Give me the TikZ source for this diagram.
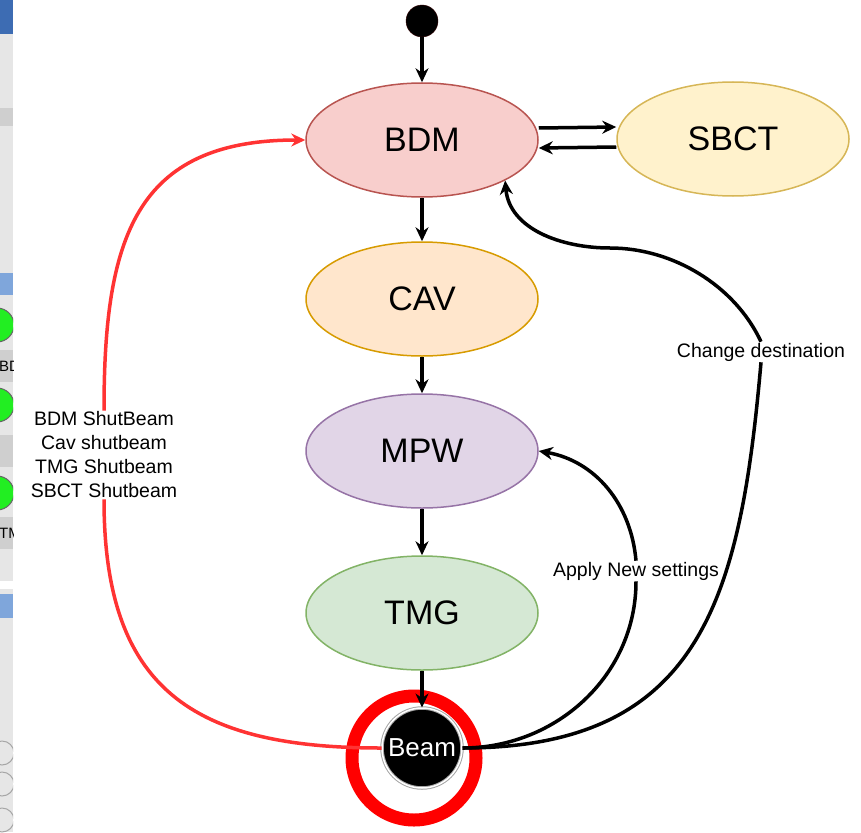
\documentclass[tikz,border=0pt]{standalone}
\usepackage{fontspec}
\setmainfont{Liberation Sans}
\usetikzlibrary{arrows.meta,shapes.geometric}

\definecolor{bdmfill}{HTML}{F8CECC}\definecolor{bdmline}{HTML}{B85450}
\definecolor{sbctfill}{HTML}{FFF2CC}\definecolor{sbctline}{HTML}{D6B656}
\definecolor{cavfill}{HTML}{FFE6CC}\definecolor{cavline}{HTML}{D79B00}
\definecolor{mpwfill}{HTML}{E1D5E7}\definecolor{mpwline}{HTML}{9673A6}
\definecolor{tmgfill}{HTML}{D5E8D4}\definecolor{tmgline}{HTML}{82B366}
\definecolor{shutred}{HTML}{FF3333}
\definecolor{uigray}{HTML}{E6E6E6}\definecolor{uiband}{HTML}{CFCFCF}
\definecolor{uiblue}{HTML}{3D6CB3}\definecolor{uisky}{HTML}{7FA6DB}
\definecolor{uigreen}{HTML}{22EE22}

\begin{document}
\begin{tikzpicture}[x=1pt,y=-1pt,
  statebox/.style={ellipse, draw, line width=1.5pt, minimum width=232pt, minimum height=114pt, inner sep=0pt, font=\fontsize{34}{40}\selectfont},
  flow/.style={line width=3.5pt, -{Stealth[length=14pt,width=13pt]}},
  shut/.style={flow, draw=shutred},
  lbl/.style={fill=white, inner sep=1pt, align=center, font=\fontsize{19.5}{24}\selectfont}]
  \useasboundingbox (0,0) rectangle (861,832);

  % Left: cut-off part of the screen
  \begin{scope}
    \clip (0,0) rectangle (13,832);
    \fill[uigray] (0,0) rectangle (13,832);
    \fill[uiblue] (0,0) rectangle (13,34);
    \fill[uiband] (0,108) rectangle (13,126);
    \fill[uisky] (0,273) rectangle (13,295);
    \fill[uiband] (0,350) rectangle (13,382);
    \fill[uiband] (0,435) rectangle (13,467);
    \fill[uiband] (0,517) rectangle (13,549);
    \fill[white] (0,581) rectangle (13,589);
    \fill[uisky] (0,594) rectangle (13,618);
    \foreach \gy in {325,405,493}
      \draw[fill=uigreen, draw=black!60, line width=1pt] (-3,\gy) circle[radius=17];
    \node[anchor=west, inner sep=0pt, font=\fontsize{15}{18}\selectfont] at (-1,366) {BD};
    \node[anchor=west, inner sep=0pt, font=\fontsize{15}{18}\selectfont] at (-1,533) {TM};
    \foreach \gy in {753,784,820}
      \draw[draw=black!35, line width=1pt] (2,\gy) circle[radius=12];
  \end{scope}

  % States
  \node[circle, fill=black, draw=black!80!red, minimum size=32pt, inner sep=0pt] (start) at (422,21) {};
  \node[statebox, fill=bdmfill, draw=bdmline] (bdm) at (422,140) {BDM};
  \node[statebox, fill=sbctfill, draw=sbctline] (sbct) at (733,139) {SBCT};
  \node[statebox, fill=cavfill, draw=cavline] (cav) at (422,299) {CAV};
  \node[statebox, fill=mpwfill, draw=mpwline] (mpw) at (422,451) {MPW};
  \node[statebox, fill=tmgfill, draw=tmgline] (tmg) at (422,613) {TMG};

  % Red mark round the beam
  \node[circle, draw=red, line width=13pt, minimum size=124pt, inner sep=0pt] (mark) at (414,758) {};
  \node[circle, fill=black, draw=gray!70, double=white, double distance=1.5pt, line width=1pt,
        minimum size=80pt, inner sep=0pt, text=white, font=\fontsize{26}{30}\selectfont] (beam) at (422,748) {Beam};

  % Labels
  \node[lbl] (shutlbl) at (104,455) {BDM ShutBeam\\Cav shutbeam\\TMG Shutbeam\\SBCT Shutbeam};
  \node[lbl] (cdlbl) at (761,352) {Change destination};
  \node[lbl] (anlbl) at (636,571) {Apply New settings};
  \coordinate (cdtop) at (610,248);

  % Main chain
  \draw[flow] (start) -- (bdm);
  \draw[flow] (bdm) -- (cav);
  \draw[flow] (cav) -- (mpw);
  \draw[flow] (mpw) -- (tmg);
  \draw[flow] (tmg) -- (beam);
  \draw[flow] ([yshift=12pt]bdm.east) -- ([yshift=12pt]sbct.west);
  \draw[flow] ([yshift=-8pt]sbct.west) -- ([yshift=-8pt]bdm.east);

  % Back edges
  \draw[shut] (beam.west) to[out=180, in=-90, looseness=1.3] (shutlbl.south)
              (shutlbl.north) to[out=90, in=180, looseness=1.3] (bdm.west);
  \draw[flow] (beam.east) to[out=0, in=-95, looseness=1.25] (cdlbl.south)
              (cdlbl.north) to[out=115, in=0, looseness=0.9] (cdtop) to[out=180, in=-85] (bdm.-26);
  \draw[flow] (beam.east) to[out=0, in=-90] (anlbl.south)
              (anlbl.north) to[out=95, in=-10] (mpw.east);
\end{tikzpicture}
\end{document}
